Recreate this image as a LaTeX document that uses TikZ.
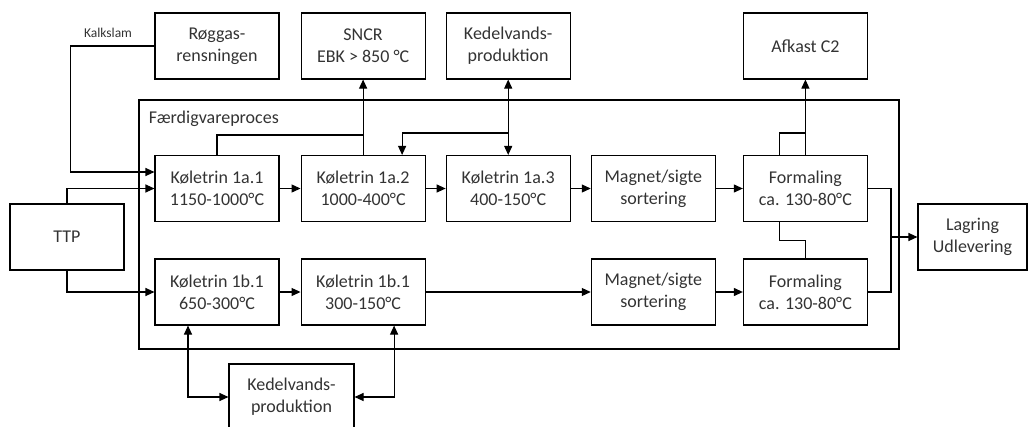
\documentclass[tikz,border=0pt]{standalone}
\usepackage{fontspec}
\setmainfont{Carlito}
\usepackage{tikz}
\usetikzlibrary{arrows.meta,positioning,calc}

\begin{document}
\begin{tikzpicture}[
  x=1pt, y=-1pt,
  node distance=20pt,
  box/.style={draw, line width=1.1pt, minimum width=124pt, minimum height=66pt,
              align=center, inner sep=0pt, text=black!80,
              font=\fontsize{18}{22}\selectfont},
  ar/.style={-{Triangle[length=9pt,width=8pt]}, line width=1.1pt},
  dar/.style={{Triangle[length=9pt,width=8pt]}-{Triangle[length=9pt,width=8pt]},
              line width=1.1pt},
  ln/.style={line width=1.1pt}
]
  \useasboundingbox (0,0) rectangle (1030,426);
  % frame
  \node[draw, line width=1.1pt, minimum width=760pt, minimum height=249pt,
        inner sep=0pt] (frame) at (519,224.5) {};
  \node[anchor=west, text=black!80, font=\fontsize{18}{22}\selectfont]
        (fvp) at ($(frame.north west)+(7,19)$) {Færdigvareproces};
  % row a
  \node[box] (ra1) at (217,188.5) {Køletrin 1a.1\\1150-1000°C};
  \node[box, right=21pt of ra1] (ra2) {Køletrin 1a.2\\1000-400°C};
  \node[box, right=of ra2] (ra3) {Køletrin 1a.3\\400-150°C};
  \node[box, right=of ra3] (ma) {Magnet/sigte\\sortering};
  \node[box, right=27pt of ma] (fa) {Formaling\\ca. 130-80°C};
  % row b
  \node[box] (rb1) at (217,292) {Køletrin 1b.1\\650-300°C};
  \node[box, right=21pt of rb1] (rb2) {Køletrin 1b.1\\300-150°C};
  \node[box] (mb) at (ma |- rb1) {Magnet/sigte\\sortering};
  \node[box] (fb) at (fa |- rb1) {Formaling\\ca. 130-80°C};
  % top row
  \node[box] (roeg) at (217,46) {Røggas-\\rensningen};
  \node[box] (sncr) at (ra2 |- roeg) {SNCR\\EBK > 850 °C};
  \node[box] (kedtop) at (ra3 |- roeg) {Kedelvands-\\produktion};
  \node[box] (afkast) at (fa |- roeg) {Afkast C2};
  % sides and bottom
  \node[box, minimum width=114pt] (ttp) at (67,237) {TTP};
  \node[box, minimum width=109pt] (lagring) at (972.5,237) {Lagring\\Udlevering};
  \node[box, minimum width=125pt] (kedbot) at (291.5,397) {Kedelvands-\\produktion};
  \node[text=black!80, font=\fontsize{13.5}{16}\selectfont] (kalk) at (108,33) {Kalkslam};

  % inputs
  \draw[ar] (roeg.west) -| ($(ra1.west)+(-84,-16.5)$) -- ($(ra1.west)+(0,-16.5)$);
  \draw[ar] (ttp.north) |- (ra1.west);
  \draw[ar] (ttp.south) |- (rb1.west);
  % main flow
  \draw[ar] (ra1) -- (ra2);
  \draw[ar] (ra2) -- (ra3);
  \draw[ar] (ra3) -- (ma);
  \draw[ar] (ma) -- (fa);
  \draw[ar] (rb1) -- (rb2);
  \draw[ar] (rb2) -- (mb);
  \draw[ar] (mb) -- (fb);
  % SNCR and boiler water
  \draw[ar] (ra2.north) -- (sncr.south);
  \draw[ln] (ra1.north) |- ($(ra2.north)+(0,-20)$);
  \draw[dar] (kedtop.south) -- (ra3.north);
  \draw[ar] ($(ra3.north)+(0,-22)$) -| ($(ra2.north)+(39,0)$);
  \draw[dar] ($(rb1.south)+(-29,0)$) |- (kedbot.west);
  \draw[dar] ($(rb2.south)+(31,0)$) |- (kedbot.east);
  % milling
  \draw[ar] (fa.north) -- (afkast.south);
  \draw[ln] ($(fa.north)+(-26,0)$) |- ($(fa.north)+(0,-22)$);
  \draw[ln] ($(fa.south)+(-26,0)$) |- ($(fa.south)!0.5!(fb.north)$) -- (fb.north);
  \draw[ln] (fa.east) -- ++(23,0) |- (fb.east);
  \draw[ar] ($(lagring.west -| fa.east)+(23,0)$) -- (lagring.west);
\end{tikzpicture}
\end{document}
